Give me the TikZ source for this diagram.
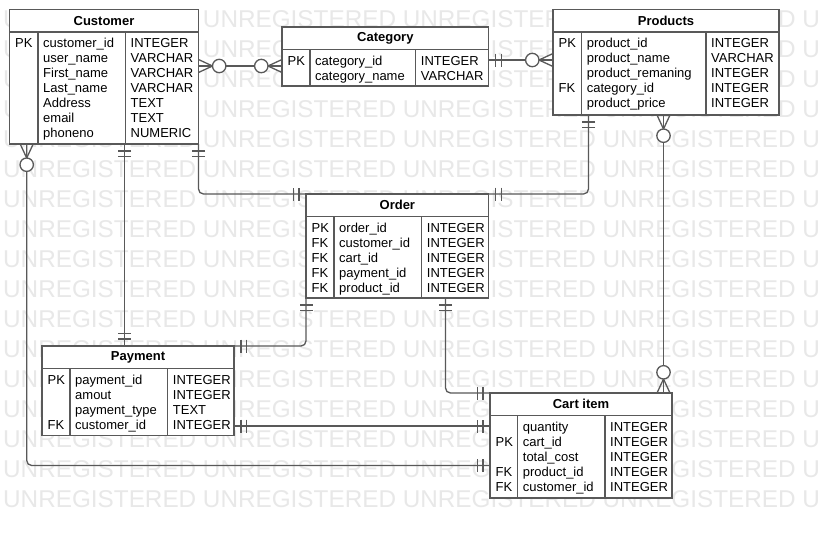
\documentclass[tikz,border=0pt]{standalone}
\usepackage{fontspec}
\setmainfont{Liberation Sans}
\usetikzlibrary{calc}
\definecolor{wmgray}{RGB}{232,232,232}
\definecolor{linegray}{RGB}{89,89,89}

% table frame: name, x, y (north west), width, height, name column, type column
\newcommand\ertable[7]{%
  \node[tbl, minimum width=#4pt, minimum height=#5pt, anchor=north west] (#1) at (#2,#3) {};
  \draw[rule] ($(#1.north west)+(0,22.5)$) -- ($(#1.north east)+(0,22.5)$);
  \draw[rule] ($(#1.north west)+(#6,22.5)$) -- ($(#1.south west)+(#6,0)$);
  \draw[rule] ($(#1.north west)+(#7,22.5)$) -- ($(#1.south west)+(#7,0)$);
}
% table rows: name, name column, type column, key/field/type list
\newcommand\errows[4]{%
  \foreach \k/\f/\t [count=\i from 0] in {#4}{
    \node[cell] (#1-k\i) at ($(#1.north west)+(5.5,38+15*\i)$) {\k};
    \node[cell] (#1-f\i) at ($(#1.north west)+(#2+5,38+15*\i)$) {\f};
    \node[cell] (#1-t\i) at ($(#1.north west)+(#3+5,38+15*\i)$) {\t};
  }}
% relationship ends: coordinate, outward direction
\newcommand\mandone[2]{\begin{scope}[shift={(#1)},rotate=#2]
  \draw[conn] (7,-6.5) -- (7,6.5) (12.5,-6.5) -- (12.5,6.5);\end{scope}}
\newcommand\zeromany[2]{\begin{scope}[shift={(#1)},rotate=#2]
  \draw[conn] (0,-6.5) -- (14,0) -- (0,6.5);
  \draw[conn,fill=white] (20.7,0) circle[radius=6.7pt];\end{scope}}

\begin{document}
\begin{tikzpicture}[x=1pt,y=-1pt,
  tbl/.style={draw=linegray, line width=1.2pt, fill=white, inner sep=0pt, outer sep=0pt},
  rule/.style={draw=linegray, line width=1.2pt},
  conn/.style={draw=linegray, line width=1.3pt},
  cell/.style={anchor=base west, inner sep=0pt, font=\fontsize{13}{15}\selectfont},
  head/.style={inner sep=0pt, font=\fontsize{13}{15}\selectfont\bfseries},
  wm/.style={anchor=base west, inner sep=0pt, text=wmgray, font=\fontsize{24.3}{30}\selectfont}]
\fill[white] (0,0) rectangle (819,539);
\useasboundingbox (0,0) rectangle (819,539);
\clip (0,0) rectangle (819,539);

% background stamp
\foreach \r in {0,...,16}
  \node[wm] (wm\r) at (3,27.7+30*\r) {UNREGISTERED UNREGISTERED UNREGISTERED UNREGISTERED UNREGISTERED};

% tables
\ertable{cust}{9.5}{9.5}{189}{134.5}{28.5}{116}
\node[head] (cust-title) at ($(cust.north)+(0,11.25)$) {Customer};
\errows{cust}{28.5}{116}{PK/customer\_id/INTEGER, {}/user\_name/VARCHAR, {}/First\_name/VARCHAR,
  {}/Last\_name/VARCHAR, {}/Address/TEXT, {}/email/TEXT, {}/phoneno/NUMERIC}

\ertable{cat}{282}{27}{206.7}{59}{28}{133.7}
\node[head] (cat-title) at ($(cat.north)+(0,11.25)$) {Category};
\errows{cat}{28}{133.7}{PK/category\_id/INTEGER, {}/category\_name/VARCHAR}

\ertable{prod}{553}{9.5}{226}{105.5}{28.7}{153}
\node[head] (prod-title) at ($(prod.north)+(0,11.25)$) {Products};
\errows{prod}{28.7}{153}{PK/product\_id/INTEGER, {}/product\_name/VARCHAR,
  {}/product\_remaning/INTEGER, FK/category\_id/INTEGER, {}/product\_price/INTEGER}

\ertable{ord}{306}{194}{182.7}{104}{28}{115.7}
\node[head] (ord-title) at ($(ord.north)+(0,11.25)$) {Order};
\errows{ord}{28}{115.7}{PK/order\_id/INTEGER, FK/customer\_id/INTEGER, FK/cart\_id/INTEGER,
  FK/payment\_id/INTEGER, FK/product\_id/INTEGER}

\ertable{pay}{42}{346}{192}{89.7}{28}{125.7}
\node[head] (pay-title) at ($(pay.north)+(0,11.25)$) {Payment};
\errows{pay}{28}{125.7}{PK/payment\_id/INTEGER, {}/amout/INTEGER, {}/payment\_type/TEXT,
  FK/customer\_id/INTEGER}

\ertable{cart}{490}{393}{182}{105}{27.7}{115}
\node[head] (cart-title) at ($(cart.north)+(0,11.25)$) {Cart item};
\errows{cart}{27.7}{115}{{}/quantity/INTEGER, PK/cart\_id/INTEGER, {}/total\_cost/INTEGER,
  FK/product\_id/INTEGER, FK/customer\_id/INTEGER}

% connector end points
\coordinate (e1a) at ($(cust.north east)+(0,56.5)$);
\coordinate (e1b) at (e1a -| cat.west);
\coordinate (e2a) at ($(cat.north east)+(0,33)$);
\coordinate (e2b) at (e2a -| prod.west);
\coordinate (e3a) at ($(cust.south west)+(17.2,0)$);
\coordinate (e3b) at ($(cart.north west)+(0,72.5)$);
\coordinate (e4a) at ($(cust.south west)+(115,0)$);
\coordinate (e4b) at (e4a |- pay.north);
\coordinate (e5a) at (cust.south east);
\coordinate (e5b) at (ord.north west);
\coordinate (e6a) at ($(prod.south west)+(35.5,0)$);
\coordinate (e6b) at (ord.north east);
\coordinate (e7a) at ($(prod.south west)+(110.5,0)$);
\coordinate (e7b) at (e7a |- cart.north);
\coordinate (e8a) at (ord.south west);
\coordinate (e8b) at (pay.north east);
\coordinate (e9a) at ($(ord.south west)+(139.5,0)$);
\coordinate (e9b) at (cart.north west);
\coordinate (e10a) at ($(pay.north east)+(0,80)$);
\coordinate (e10b) at (e10a -| cart.west);

% connectors
\begin{scope}[rounded corners=5pt]
\draw[conn] (e1a) -- (e1b);
\draw[conn] (e2a) -- (e2b);
\draw[conn] (e3a) |- (e3b);
\draw[conn] (e4a) -- (e4b);
\draw[conn] (e5a) |- (e5b);
\draw[conn] (e6a) |- (e6b);
\draw[conn] (e7a) -- (e7b);
\draw[conn] (e8a) |- (e8b);
\draw[conn] (e9a) |- (e9b);
\draw[conn] (e10a) -- (e10b);
\end{scope}

% cardinality marks
\zeromany{e1a}{0}   \zeromany{e1b}{180}
\mandone{e2a}{0}    \zeromany{e2b}{180}
\zeromany{e3a}{-90} \mandone{e3b}{180}
\mandone{e4a}{-90}  \mandone{e4b}{90}
\mandone{e5a}{-90}  \mandone{e5b}{180}
\mandone{e6a}{-90}  \mandone{e6b}{0}
\zeromany{e7a}{-90} \zeromany{e7b}{90}
\mandone{e8a}{-90}  \mandone{e8b}{0}
\mandone{e9a}{-90}  \mandone{e9b}{180}
\mandone{e10a}{0}   \mandone{e10b}{180}
\end{tikzpicture}
\end{document}
